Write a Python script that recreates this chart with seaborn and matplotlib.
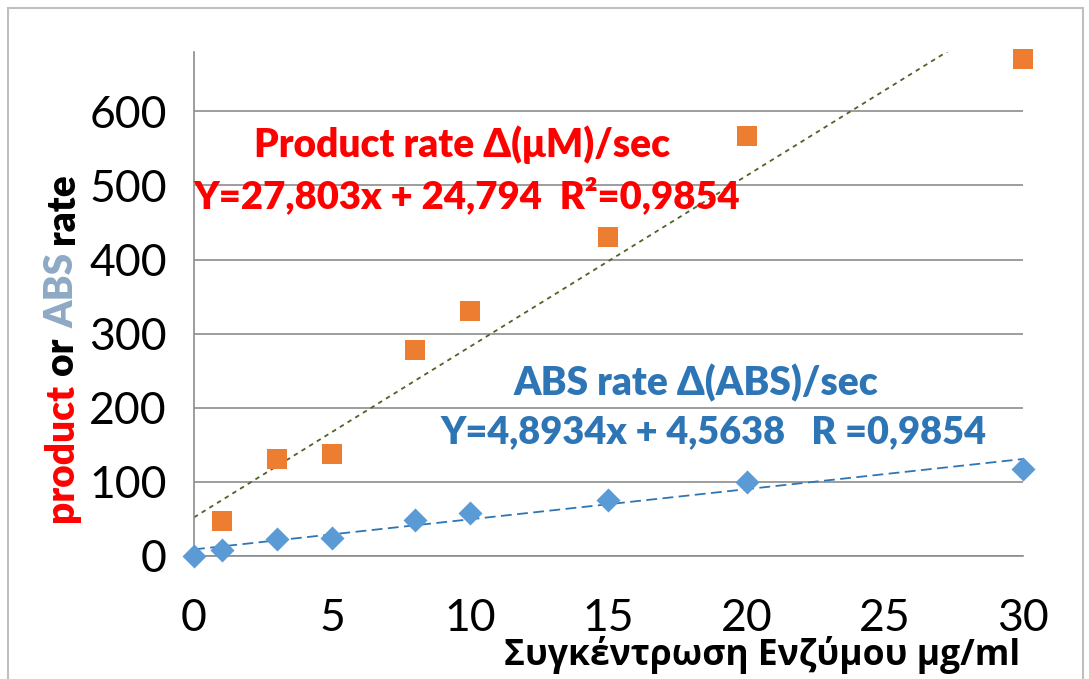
import numpy as np
import pandas as pd
import matplotlib
matplotlib.use('Agg')
import matplotlib.pyplot as plt
from matplotlib.ticker import MultipleLocator
from matplotlib.patches import Rectangle
import seaborn as sns

# enzyme concentration (ug/ml)
conc = [0, 1, 3, 5, 8, 10, 15, 20, 30]
# product rate d(uM)/sec
product_rate = [0, 47, 131, 137, 278, 330, 430, 567, 670]
# ABS rate d(ABS)/sec
abs_rate = [0, 8, 23, 24, 48, 58, 75, 100, 118]

x_ticks = [0, 5, 10, 15, 20, 25, 30]
y_ticks = [0, 100, 200, 300, 400, 500, 600]

df = pd.DataFrame({'conc': conc, 'product': product_rate, 'abs': abs_rate})

sns.set_style('white')
plt.rcParams['font.family'] = ['Lato', 'Noto Sans', 'DejaVu Sans']

fig = plt.figure(figsize=(10.89, 6.79), dpi=100)
ax = fig.add_axes([194 / 1089, 1 - 556 / 679, (1023 - 194) / 1089, (556 - 52) / 679])

orange = '#ED7D31'
blue = '#5B9BD5'

# trend lines (fit on all points, incl. the origin)
sns.regplot(data=df, x='conc', y='product', scatter=False, ci=None, truncate=True, ax=ax,
            line_kws={'color': '#4F6228', 'ls': (0, (2.5, 2.5)), 'lw': 1.3})
sns.regplot(data=df, x='conc', y='abs', scatter=False, ci=None, truncate=True, ax=ax,
            line_kws={'color': '#2E75B6', 'ls': (0, (6, 3)), 'lw': 1.3})

# the product marker at the origin is hidden in the original
sns.scatterplot(data=df[df['conc'] > 0], x='conc', y='product', marker='s', s=190, color=orange,
                linewidth=0, ax=ax, clip_on=False, zorder=3)
sns.scatterplot(data=df, x='conc', y='abs', marker='D', s=150, color=blue,
                linewidth=0, ax=ax, clip_on=False, zorder=4)

ax.set_xlim(0, 30)
ax.set_ylim(0, 680)
ax.set_xticks(x_ticks)
ax.set_yticks(y_ticks)
ax.xaxis.set_minor_locator(MultipleLocator(2))
ax.yaxis.set_minor_locator(MultipleLocator(50))
ax.grid(axis='y', color='#8C8C8C', lw=1.2)
ax.set_axisbelow(True)
for s in ['top', 'right']:
    ax.spines[s].set_visible(False)
for s in ['left', 'bottom']:
    ax.spines[s].set_color('#8C8C8C')
    ax.spines[s].set_linewidth(1.2)

ax.tick_params(axis='x', which='major', direction='out', length=11, width=1.2,
               color='#8C8C8C', labelcolor='black', labelsize=32, pad=19)
ax.tick_params(axis='x', which='minor', direction='out', length=7, width=1.2, color='#8C8C8C')
ax.tick_params(axis='y', which='major', direction='out', length=9.5, width=1.2,
               color='#8C8C8C', labelcolor='black', labelsize=32, pad=10)
ax.tick_params(axis='y', which='minor', direction='in', length=7, width=1.2, color='#8C8C8C')
ax.set_xlabel('')
ax.set_ylabel('')

fig.text(1020 / 1089, 1 - 655 / 679, 'Συγκέντρωση Ενζύμου μg/ml', ha='right', va='center',
         fontsize=25.5, fontweight='bold', color='black', family=['Open Sans', 'DejaVu Sans'])

# annotations
red = '#FF0000'
tblue = '#2E75B6'
fw = 'heavy'
fig.text(462 / 1089, 1 - 145 / 679, 'Product rate Δ(μM)/sec', ha='center', va='center',
         fontsize=28, fontweight=fw, color=red)
fig.text(193 / 1089, 1 - 195 / 679, 'Y=27,803x + 24,794  R²=0,9854', ha='left', va='center',
         fontsize=27.5, fontweight=fw, color=red)
fig.text(696 / 1089, 1 - 383 / 679, 'ABS rate Δ(ABS)/sec', ha='center', va='center',
         fontsize=28, fontweight=fw, color=tblue)
fig.text(440 / 1089, 1 - 432 / 679, 'Y=4,8934x + 4,5638   R =0,9854', ha='left', va='center',
         fontsize=27.3, fontweight=fw, color=tblue)

# multicoloured y label
renderer = fig.canvas.get_renderer()
pieces = [('product', red), ('or', 'black'), ('ABS', '#8EA9C4'), ('rate', 'black')]
ypix = 679 - 522
xfig = 62 / 1089
for word, col in pieces:
    t = fig.text(xfig, ypix / 679, word, rotation=90, rotation_mode='anchor',
                 ha='left', va='center', fontsize=28, fontweight=fw, color=col)
    bb = t.get_window_extent(renderer)
    ypix = bb.y1 + 9

fig.patches.append(Rectangle((8 / 1089, -0.01), (1083 - 8) / 1089, 1.01 - 8 / 679,
                             transform=fig.transFigure, fill=False, ec='#BFBFBF', lw=1.5))

fig.savefig('out.png', dpi=100)
